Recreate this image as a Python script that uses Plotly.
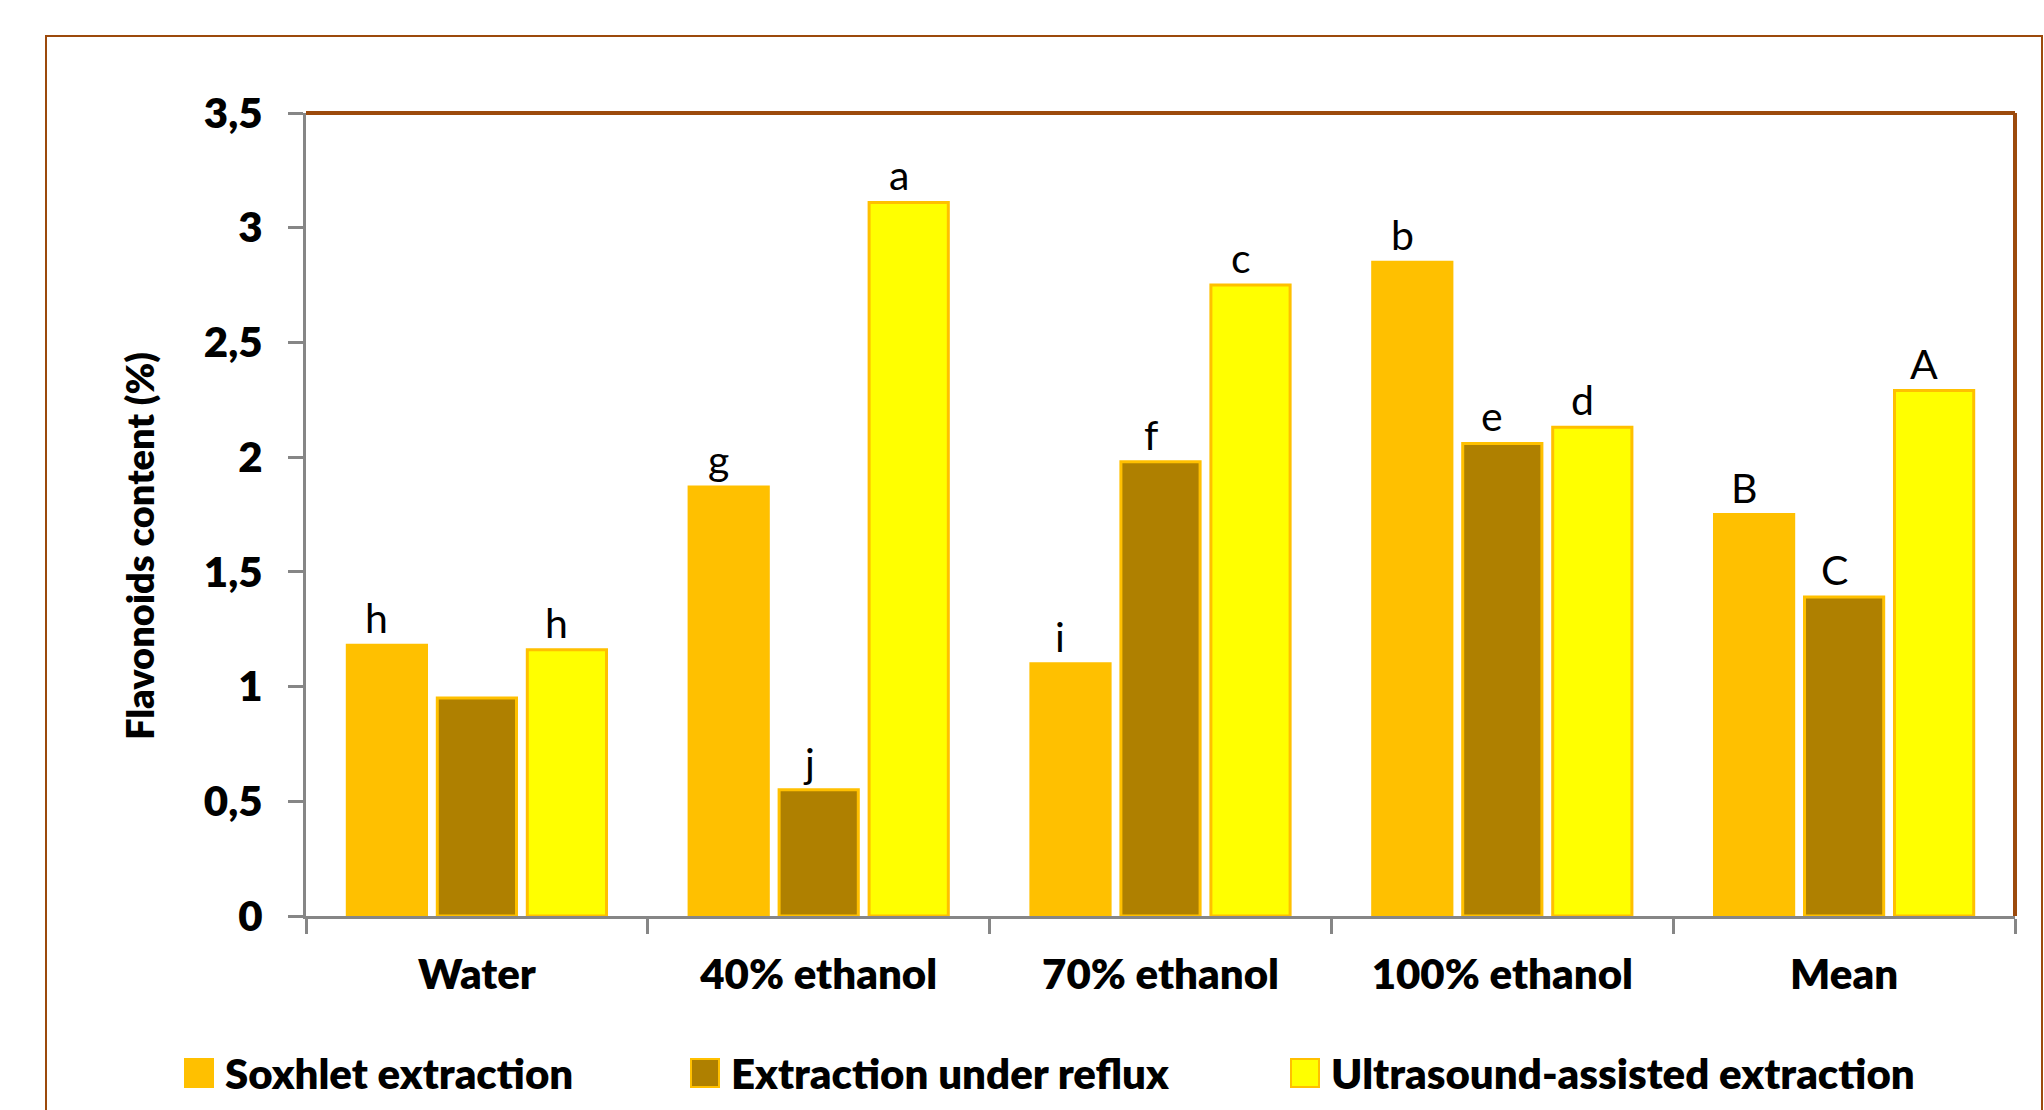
import plotly.graph_objects as go

# Flavonoid content by solvent and extraction method
categories = ["Water", "40% ethanol", "70% ethanol", "100% ethanol", "Mean"]
series_names = ["Soxhlet extraction", "Extraction under reflux", "Ultrasound-assisted extraction"]
soxhlet = [1.18, 1.87, 1.10, 2.85, 1.75]
reflux = [0.95, 0.55, 1.98, 2.06, 1.39]
ultrasound = [1.16, 3.11, 2.75, 2.13, 2.29]
letters_soxhlet = ["h", "g", "i", "b", "B"]
letters_reflux = ["", "j", "f", "e", "C"]
letters_ultrasound = ["h", "a", "c", "d", "A"]

fills = ["#FFC000", "#AF8000", "#FFFF00"]
outline = "#FFC000"
brown = "#9C4A0C"
grey = "#868686"
FONT = "Lato"
HEAVY = 800

W, H = 2044, 1110
ML, MR, MT, MB = 306, 29, 113, 194
PW, PH = W - ML - MR, H - MT - MB
BARGAP = 0.21

values = [soxhlet, reflux, ultrasound]
letters = [letters_soxhlet, letters_reflux, letters_ultrasound]

fig = go.Figure()
for name, vals, col in zip(series_names, values, fills):
    fig.add_trace(go.Bar(
        name=name, x=categories, y=vals,
        marker=dict(color=col, line=dict(color=outline, width=3)),
        showlegend=False,
    ))


def px_to_paper_x(px):
    return (px - ML) / PW


def px_to_paper_y(py):
    return (H - MB - py) / PH


annotations = []
# significance letters above each bar
slot = PW / len(categories) * (1 - BARGAP) / 3
for i, (vals, labs) in enumerate(zip(values, letters)):
    for cat, v, lab in zip(categories, vals, labs):
        if not lab:
            continue
        annotations.append(dict(
            x=cat, y=v, xref="x", yref="y", text=lab, showarrow=False,
            xanchor="center", yanchor="bottom",
            xshift=(i - 1) * slot - 10, yshift=1,
            font=dict(family=FONT, size=41, color="black"),
        ))

# y-axis title
annotations.append(dict(
    x=px_to_paper_x(139), y=px_to_paper_y(546), xref="paper", yref="paper",
    text="Flavonoids content (%)", textangle=-90, showarrow=False,
    xanchor="center", yanchor="middle",
    font=dict(family=FONT, size=38, color="black", weight=HEAVY),
))

shapes = []
# chart frame
shapes.append(dict(
    type="rect", xref="paper", yref="paper",
    x0=px_to_paper_x(46), x1=px_to_paper_x(2042),
    y0=px_to_paper_y(1160), y1=px_to_paper_y(36),
    line=dict(color=brown, width=2), fillcolor="rgba(0,0,0,0)", layer="below",
))
# plot-area border, top and right
shapes.append(dict(type="line", xref="paper", yref="paper", x0=0, x1=1, y0=1, y1=1,
                   line=dict(color=brown, width=4)))
shapes.append(dict(type="line", xref="paper", yref="paper", x0=1, x1=1, y0=0, y1=1,
                   line=dict(color=brown, width=4)))

# legend row
legend_x = [185, 691, 1291]
legend_y = 1073
box = 28
for name, col, lx in zip(series_names, fills, legend_x):
    shapes.append(dict(
        type="rect", xref="paper", yref="paper",
        x0=px_to_paper_x(lx), x1=px_to_paper_x(lx + box),
        y0=px_to_paper_y(legend_y + box / 2), y1=px_to_paper_y(legend_y - box / 2),
        fillcolor=col, line=dict(color=outline, width=2),
    ))
    annotations.append(dict(
        x=px_to_paper_x(lx + box + 10), y=px_to_paper_y(legend_y),
        xref="paper", yref="paper", text=name, showarrow=False,
        xanchor="left", yanchor="middle",
        font=dict(family=FONT, size=42, color="black", weight=HEAVY),
    ))

fig.update_layout(
    width=W, height=H,
    margin=dict(l=ML, r=MR, t=MT, b=MB),
    paper_bgcolor="white", plot_bgcolor="white",
    barmode="group", bargap=BARGAP, bargroupgap=0.12,
    separators=", ",
    showlegend=False,
    annotations=annotations,
    shapes=shapes,
    font=dict(family=FONT, color="black"),
)
fig.update_xaxes(
    type="category", showline=True, linecolor=grey, linewidth=3,
    ticks="outside", tickson="boundaries", ticklen=15, tickwidth=3, tickcolor=grey,
    showgrid=False, ticklabelstandoff=20,
    tickfont=dict(family=FONT, size=42, color="black", weight=HEAVY),
)
fig.update_yaxes(
    range=[0, 3.5], dtick=0.5, showline=True, linecolor=grey, linewidth=3,
    ticks="outside", ticklen=15, tickwidth=3, tickcolor=grey,
    showgrid=False, zeroline=False, ticklabelstandoff=17,
    tickfont=dict(family=FONT, size=42, color="black", weight=HEAVY),
)

fig.write_html("out.html")
